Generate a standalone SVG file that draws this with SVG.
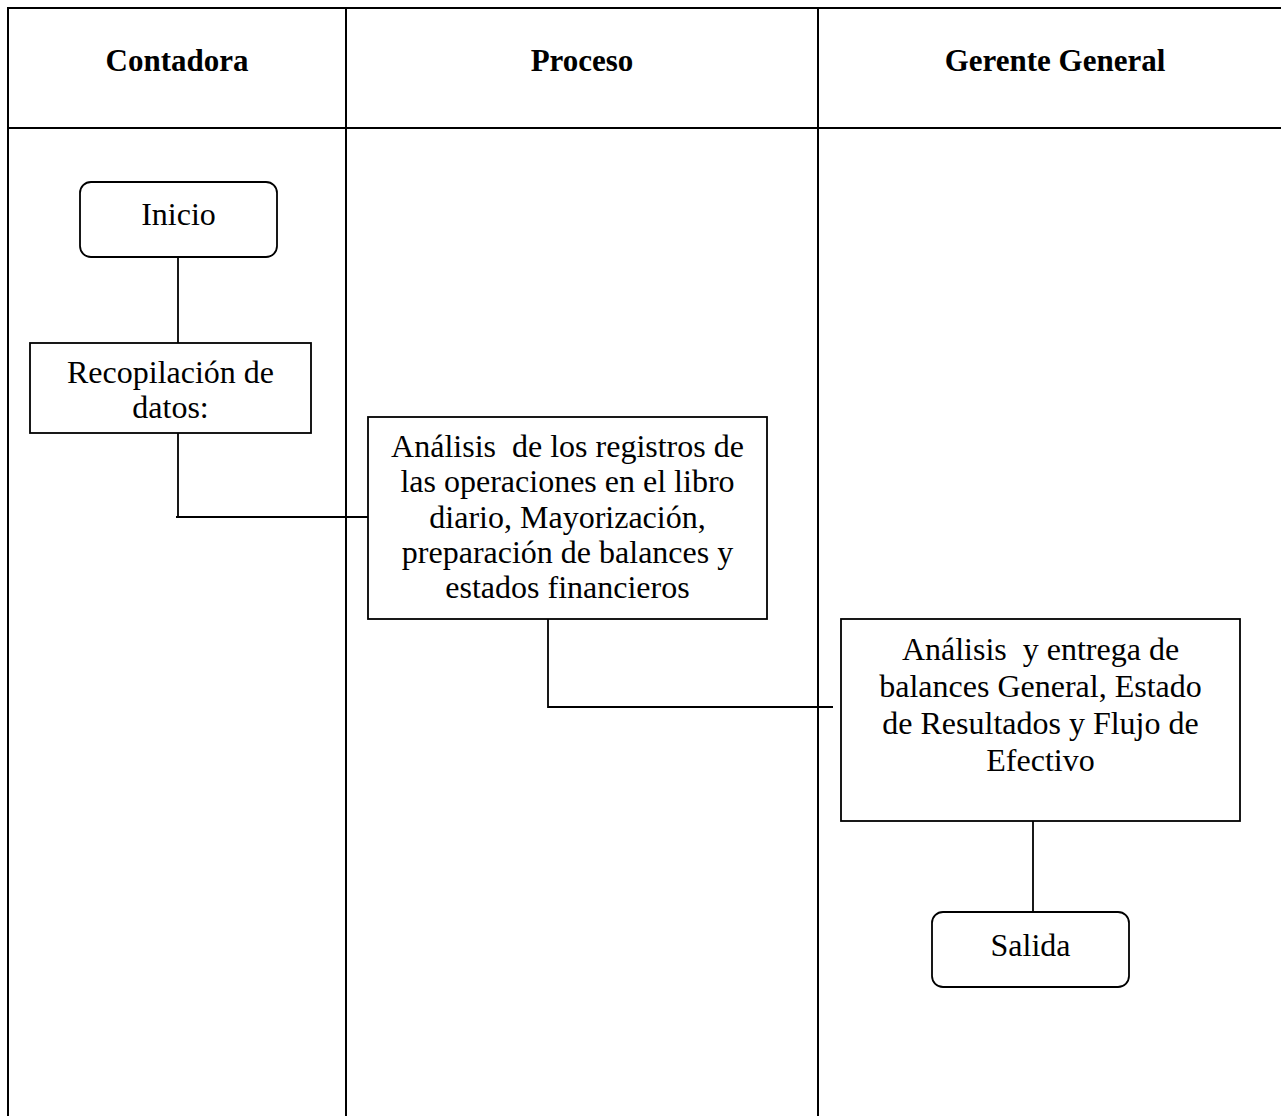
<svg xmlns="http://www.w3.org/2000/svg" width="1281" height="1116" viewBox="0 0 1281 1116">
<style>
.grid{stroke:#000;stroke-width:2;fill:none}
.box{fill:#fff;stroke:#000;stroke-width:1.8}
.con{stroke:#000;stroke-width:1.8;fill:none}
.h{font-family:"Liberation Serif",serif;font-size:31px;font-weight:bold;text-anchor:middle;fill:#000}
.t{font-family:"Liberation Serif",serif;font-size:32px;text-anchor:middle;fill:#000}
</style>
<rect width="1281" height="1116" fill="#fff"/>
<g id="table">
<line class="grid" x1="7" y1="8" x2="1281" y2="8"/>
<line class="grid" x1="8" y1="128" x2="1281" y2="128"/>
<line class="grid" x1="8" y1="7" x2="8" y2="1116"/>
<line class="grid" x1="346" y1="7" x2="346" y2="1116"/>
<line class="grid" x1="818" y1="7" x2="818" y2="1116"/>
<text class="h" x="177" y="71">Contadora</text>
<text class="h" x="582" y="71">Proceso</text>
<text class="h" x="1055" y="71">Gerente General</text>
</g>
<g id="connectors">
<line class="con" x1="178" y1="257" x2="178" y2="343"/>
<polyline class="con" points="178,433 178,517 176,517 368,517"/>
<polyline class="con" points="548,619 548,707 833,707"/>
<line class="con" x1="1033" y1="821" x2="1033" y2="912"/>
</g>
<g id="inicio">
<rect class="box" x="80" y="182" width="197" height="75" rx="11"/>
<text class="t" x="178.5" y="225">Inicio</text>
</g>
<g id="recopilacion">
<rect class="box" x="30" y="343" width="281" height="90"/>
<text class="t" x="170.5" y="383">Recopilación de</text>
<text class="t" x="170.5" y="418">datos:</text>
</g>
<g id="analisis-registros">
<rect class="box" x="368" y="417" width="399" height="202"/>
<text class="t" x="567.5" y="457">Análisis&#160; de los registros de</text>
<text class="t" x="567.5" y="492">las operaciones en el libro</text>
<text class="t" x="567.5" y="528">diario, Mayorización,</text>
<text class="t" x="567.5" y="563">preparación de balances y</text>
<text class="t" x="567.5" y="598">estados financieros</text>
</g>
<g id="analisis-entrega">
<rect class="box" x="841" y="619" width="399" height="202"/>
<text class="t" x="1040.5" y="660">Análisis&#160; y entrega de</text>
<text class="t" x="1040.5" y="697">balances General, Estado</text>
<text class="t" x="1040.5" y="734">de Resultados y Flujo de</text>
<text class="t" x="1040.5" y="771">Efectivo</text>
</g>
<g id="salida">
<rect class="box" x="932" y="912" width="197" height="75" rx="11"/>
<text class="t" x="1030.5" y="956">Salida</text>
</g>
</svg>
